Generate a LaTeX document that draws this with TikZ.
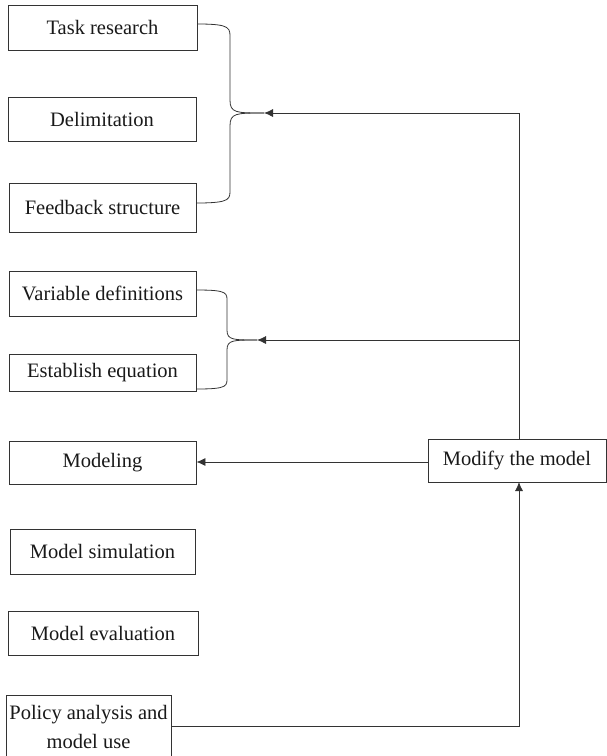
\documentclass[tikz,border=0pt]{standalone}
\usepackage{fontspec}
\setmainfont{Liberation Serif}
\usetikzlibrary{arrows.meta}
\begin{document}
\begin{tikzpicture}[x=1pt,y=-1pt,
  stepbox/.style={draw=black!80,line width=0.9pt,inner sep=0pt,align=center,
    font=\fontsize{20.5}{28}\selectfont,text=black!90},
  link/.style={draw=black!80,line width=0.8pt},
  arr/.style={link,-{Latex[length=9pt,width=8pt]}}]
\useasboundingbox (0,0) rectangle (606,756);
% process steps on the left
\node[stepbox,minimum width=189pt,minimum height=45pt] (task) at (102.5,27.5) {Task research};
\node[stepbox,minimum width=188pt,minimum height=44pt] (delim) at (102,119) {Delimitation};
\node[stepbox,minimum width=187pt,minimum height=49pt] (feed) at (102.5,207.5) {Feedback structure};
\node[stepbox,minimum width=187pt,minimum height=45pt] (vars) at (102.5,293.5) {Variable definitions};
\node[stepbox,minimum width=187pt,minimum height=37pt] (eqn) at (102.5,373) {Establish equation};
\node[stepbox,minimum width=187pt,minimum height=43pt] (modeling) at (102.5,462.5) {Modeling};
\node[stepbox,minimum width=185pt,minimum height=45pt] (sim) at (102.5,551.5) {Model simulation};
\node[stepbox,minimum width=190pt,minimum height=44pt] (eval) at (103,633) {Model evaluation};
\node[stepbox,minimum width=165pt,minimum height=70pt,anchor=north west] (policy) at (6,695) {};
\node[font=\fontsize{20.5}{29}\selectfont,text=black!90,align=center] (policytext) at (88.5,727)
  {Policy analysis and\\model use};
% feedback box on the right
\node[stepbox,minimum width=178pt,minimum height=43pt] (modify) at (517,460.5) {Modify the model};
% junction points of the braces and corners of the feedback lines
\coordinate (j1) at (264,113);
\coordinate (j2) at (257,340);
\coordinate (c1) at (519,113);
\coordinate (c2) at (519,340);
\coordinate (mb) at (519,439);
\coordinate (pb) at (519,482);
\coordinate (pc) at (519,726);
% brace joining the first three steps
\draw[link] (task.east |- 0,24) .. controls (232,24) and (230,28) .. (230,40) -- (230,100)
  .. controls (230,113) and (236,113) .. (j1);
\draw[link] (feed.east |- 0,203) .. controls (232,203) and (230,199) .. (230,188) -- (230,126)
  .. controls (230,113) and (236,113) .. (j1);
% brace joining the equation steps
\draw[link] (vars.east |- 0,290) .. controls (229,290) and (227,293) .. (227,303) -- (227,330)
  .. controls (227,340) and (233,340) .. (j2);
\draw[link] (eqn.east |- 0,389) .. controls (229,389) and (227,386) .. (227,376) -- (227,350)
  .. controls (227,340) and (233,340) .. (j2);
% feedback from the modification step
\draw[arr] (mb) -- (c1) -- (j1);
\draw[arr] (c2) -- (j2);
\draw[arr] (modify.west |- 0,462) -- (modeling.east |- 0,462);
\draw[arr] (policy.east |- pc) -- (pc) -- (pb);
\end{tikzpicture}
\end{document}
